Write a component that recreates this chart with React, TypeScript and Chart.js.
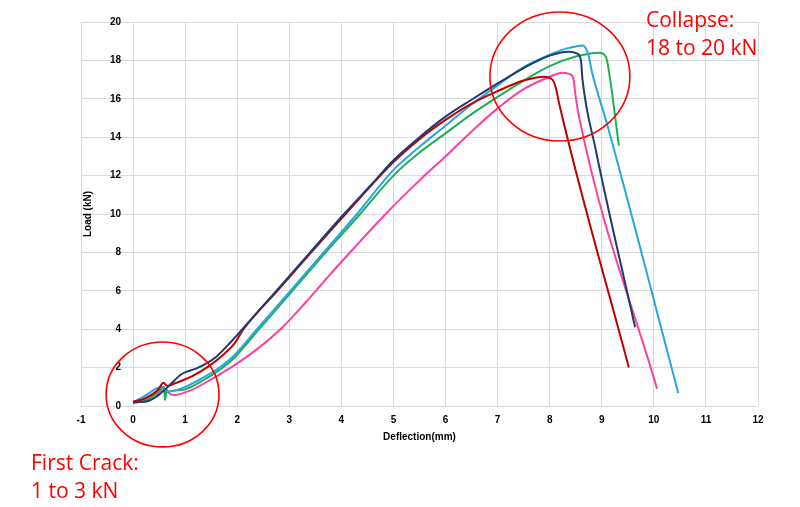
import React, { useEffect, useRef } from "react";
import { Chart, registerables } from "chart.js";

Chart.register(...registerables);

// ---- Axis ranges / ticks ----
const xMin = -1;
const xMax = 12;
const xStep = 1;
const yMin = 0;
const yMax = 20;
const yStep = 2;

// ---- Series (Deflection mm -> Load kN) ----
const navyX = [0, 0.23, 0.49, 0.74, 0.9, 1.03, 1.22, 1.41, 1.6, 1.9, 2.1, 2.75, 3.4, 4.05, 4.6, 5.0, 5.5, 6.0, 6.5, 7.0, 7.5, 8.0, 8.37, 8.53, 8.6, 8.63, 8.88, 9.64];
const navyY = [0.2, 0.22, 0.57, 1.18, 1.6, 1.79, 1.96, 2.22, 2.57, 3.4, 4.0, 6.0, 8.0, 10.0, 11.6, 12.8, 14.0, 15.07, 15.95, 16.8, 17.6, 18.25, 18.45, 18.35, 18.0, 17.0, 13.4, 4.1];

const redX = [0, 0.23, 0.49, 0.58, 0.66, 0.8, 1.12, 1.44, 1.76, 1.95, 2.12, 2.77, 3.42, 4.08, 5.0, 5.5, 6.0, 6.5, 7.0, 7.5, 7.89, 8.05, 8.12, 8.18, 9.52];
const redY = [0.22, 0.4, 0.87, 1.21, 1.04, 1.18, 1.53, 2.05, 2.74, 3.26, 4.0, 6.0, 8.0, 10.0, 12.7, 13.9, 14.9, 15.75, 16.4, 16.95, 17.15, 17.0, 16.55, 15.77, 2.0];

const blueX = [0, 0.2, 0.42, 0.55, 0.65, 0.93, 1.32, 1.7, 1.95, 2.38, 3.02, 3.66, 4.3, 5.0, 5.5, 6.0, 6.5, 7.0, 7.5, 8.0, 8.3, 8.55, 8.63, 8.7, 8.75, 8.82, 9.1, 10.47];
const blueY = [0.2, 0.48, 0.87, 1.0, 0.75, 0.92, 1.44, 2.08, 2.66, 4.0, 6.0, 8.0, 10.0, 12.3, 13.5, 14.6, 15.7, 16.7, 17.65, 18.3, 18.6, 18.75, 18.77, 18.6, 18.2, 17.3, 14.7, 0.66];

const greenX = [0, 0.29, 0.52, 0.6, 0.61, 0.64, 0.93, 1.32, 1.7, 1.95, 2.42, 3.06, 3.7, 4.36, 5.0, 5.5, 6.0, 6.5, 7.0, 7.5, 8.0, 8.5, 8.95, 9.05, 9.1, 9.33];
const greenY = [0.2, 0.35, 0.83, 1.0, 0.31, 0.7, 0.83, 1.3, 1.96, 2.53, 4.0, 6.0, 8.0, 10.0, 12.0, 13.2, 14.2, 15.2, 16.1, 16.95, 17.7, 18.2, 18.4, 18.3, 18.0, 13.56];

const pinkX = [0, 0.25, 0.48, 0.63, 0.7, 0.77, 1.12, 1.5, 1.95, 2.4, 2.85, 3.3, 3.75, 4.2, 4.85, 5.5, 6.0, 6.5, 7.0, 7.5, 8.0, 8.24, 8.37, 8.45, 8.5, 8.56, 10.06];
const pinkY = [0.14, 0.35, 0.66, 0.87, 0.65, 0.57, 0.83, 1.39, 2.13, 3.0, 4.05, 5.35, 6.75, 8.1, 10.0, 11.75, 13.0, 14.3, 15.5, 16.5, 17.15, 17.36, 17.3, 17.1, 16.1, 15.1, 0.9];

const seriesColors = ["#1F3A72", "#C00000", "#27A6DF", "#1DAF55", "#FF3FA0"];

// ---- Annotation ellipses (data units) ----
const circleCx = [0.566, 8.196];
const circleCy = [0.6, 17.16];
const circleRx = [1.084, 1.344];
const circleRy = [2.73, 3.36];

const axisFont = { family: "'Liberation Sans', Arial, sans-serif", size: 10, weight: "bold" as const };

function pts(xs: number[], ys: number[]) {
  return xs.map((x, i) => ({ x, y: ys[i] }));
}

const ellipsePlugin = {
  id: "ellipses",
  afterDatasetsDraw(chart: any) {
    const { ctx, scales } = chart;
    const sx = scales.x;
    const sy = scales.y;
    ctx.save();
    ctx.strokeStyle = "#FF0000";
    ctx.lineWidth = 1.6;
    for (let i = 0; i < circleCx.length; i++) {
      const cx = sx.getPixelForValue(circleCx[i]);
      const cy = sy.getPixelForValue(circleCy[i]);
      const rx = Math.abs(sx.getPixelForValue(circleCx[i] + circleRx[i]) - cx);
      const ry = Math.abs(sy.getPixelForValue(circleCy[i] + circleRy[i]) - cy);
      ctx.beginPath();
      ctx.ellipse(cx, cy, rx, ry, 0, 0, Math.PI * 2);
      ctx.stroke();
    }
    ctx.restore();
  },
};

export default function App() {
  const ref = useRef<HTMLCanvasElement | null>(null);

  useEffect(() => {
    if (!ref.current) return;
    const series = [
      pts(navyX, navyY),
      pts(redX, redY),
      pts(blueX, blueY),
      pts(greenX, greenY),
      pts(pinkX, pinkY),
    ];
    const chart = new Chart(ref.current, {
      type: "scatter",
      data: {
        datasets: series.map((d, i) => ({
          data: d,
          showLine: true,
          borderColor: seriesColors[i],
          backgroundColor: seriesColors[i],
          borderWidth: 2,
          pointRadius: 0,
          cubicInterpolationMode: "monotone" as const,
          fill: false,
        })),
      },
      options: {
        responsive: false,
        animation: false,
        layout: { padding: { left: 81, right: 42, top: 22, bottom: 64 } },
        plugins: { legend: { display: false }, tooltip: { enabled: false } },
        scales: {
          x: {
            type: "linear",
            min: xMin,
            max: xMax,
            ticks: { stepSize: xStep, padding: 8, color: "#000", font: axisFont },
            grid: { color: "#D9D9D9", lineWidth: 1, drawTicks: false },
            border: { display: false },
            title: {
              display: true,
              text: "Deflection(mm)",
              color: "#000",
              font: axisFont,
              padding: { top: -3, bottom: 0 },
            },
          },
          y: {
            type: "linear",
            min: yMin,
            max: yMax,
            ticks: {
              stepSize: yStep,
              mirror: true,
              crossAlign: "far" as const,
              padding: 29,
              color: "#000",
              font: axisFont,
            },
            grid: { color: "#D9D9D9", lineWidth: 1, drawTicks: false },
            border: { display: false },
            title: {
              display: true,
              text: "Load (kN)",
              color: "#000",
              font: axisFont,
              padding: { top: 1, bottom: 0 },
            },
            afterFit: (s: any) => {
              s.width = 0;
              s.paddingTop = 0;
              s.paddingBottom = 0;
            },
          },
        },
      },
      plugins: [ellipsePlugin],
    });
    return () => chart.destroy();
  }, []);

  const noteStyle: React.CSSProperties = {
    position: "absolute",
    fontFamily: "'Open Sans', 'Noto Sans', sans-serif",
    fontSize: 21,
    lineHeight: "28px",
    color: "#FF0000",
    whiteSpace: "pre",
  };

  return (
    <div style={{ position: "absolute", left: 0, top: 0, width: 800, height: 507, background: "#fff" }}>
      <canvas ref={ref} width={800} height={507} style={{ position: "absolute", left: 0, top: 0 }} />
      <div style={{ ...noteStyle, left: 31, top: 448 }}>{"First Crack:\n1 to 3 kN"}</div>
      <div style={{ ...noteStyle, left: 646, top: 5 }}>{"Collapse:\n18 to 20 kN"}</div>
    </div>
  );
}
